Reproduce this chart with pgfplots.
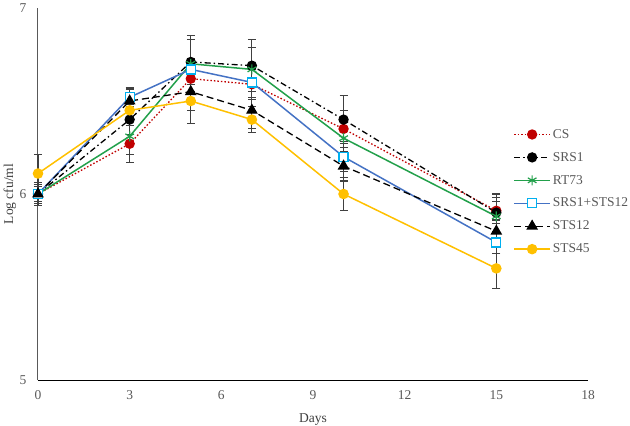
\documentclass[border=0pt]{standalone}
\usepackage{pgfplots}
\pgfplotsset{compat=1.18}
\usepackage{fontspec}
\setmainfont{Liberation Serif}
\definecolor{csred}{HTML}{C00000}
\definecolor{rtgreen}{HTML}{22A04B}
\definecolor{sblue}{HTML}{4472C4}
\definecolor{scyan}{HTML}{00B0F0}
\definecolor{syellow}{HTML}{FFC000}
\definecolor{tickgray}{HTML}{595959}
\definecolor{errgray}{HTML}{404040}
\begin{document}
\begin{tikzpicture}
\path[use as bounding box] (-38pt,-46pt) rectangle (592pt,380pt);
\begin{axis}[
  scale only axis,
  width=550pt, height=372pt,
  xmin=0, xmax=18, ymin=5, ymax=7,
  xtick={0,3,...,18}, ytick={5,6,7},
  axis x line*=bottom, axis y line*=left,
  x axis line style={black, line width=1pt},
  y axis line style={tickgray, line width=1pt},
  major tick length=0pt,
  /pgf/number format/assume math mode=true,
  font=\fontsize{13.5}{16}\selectfont,
  ticklabel style={font=\fontsize{13.5}{16}\selectfont, text=tickgray},
  yticklabel style={xshift=-8pt},
  xticklabel style={yshift=-7pt},
  xlabel={Days}, ylabel={Log cfu/ml},
  xlabel style={at={(axis description cs:0.5,0)}, anchor=center, yshift=-40pt, text=tickgray!70!black},
  ylabel style={at={(axis description cs:-0.051,0.5)}, anchor=center, text=tickgray!70!black},
  clip=false,
  error bars/y dir=both, error bars/y explicit,
  error bars/error bar style={solid, errgray, line width=1.1pt},
  error bars/error mark options={solid, rotate=90, mark size=4pt, errgray, line width=1.1pt},
  legend cell align=left,
  legend style={draw=none, fill=none, at={(axis description cs:0.864,0.68)}, anchor=north west,
    font=\fontsize{13.5}{16}\selectfont, text=tickgray, row sep=8.5pt, inner sep=0pt},
  legend image code/.code={\draw[mark repeat=2,mark phase=2] plot coordinates {(0pt,0pt) (18pt,0pt) (36pt,0pt)};},
]
\addplot[csred, line width=1.3pt, dash pattern=on 1.5pt off 2pt, mark=*, mark size=4.5pt, mark options={solid, fill=csred, draw=csred}]
  coordinates {(0,6.0) +- (0,0.05) (3,6.27) +- (0,0.10) (5,6.62) +- (0,0.08) (7,6.59) +- (0,0.08) (10,6.35) +- (0,0.10) (15,5.91) +- (0,0.07)};
\addlegendentry{CS}
\addplot[black, line width=1.3pt, dash pattern=on 6pt off 3pt on 1.5pt off 3pt, mark=*, mark size=4.5pt, mark options={solid, fill=black}]
  coordinates {(0,6.0) +- (0,0.06) (3,6.40) +- (0,0.08) (5,6.71) +- (0,0.12) (7,6.69) +- (0,0.14) (10,6.40) +- (0,0.13) (15,5.90) +- (0,0.10)};
\addlegendentry{SRS1}
\addplot[rtgreen, line width=1.5pt, mark=asterisk, mark size=5pt, mark options={solid, line width=1.2pt}]
  coordinates {(0,6.0) +- (0,0.04) (3,6.31) +- (0,0.10) (5,6.70) +- (0,0.15) (7,6.67) +- (0,0.12) (10,6.30) +- (0,0.10) (15,5.88) +- (0,0.08)};
\addlegendentry{RT73}
\addplot[sblue, line width=1.5pt, mark=square*, mark size=4.5pt, mark options={solid, fill=white, draw=scyan, line width=1.3pt}]
  coordinates {(0,6.0) +- (0,0.05) (3,6.52) +- (0,0.05) (5,6.67) +- (0,0.06) (7,6.60) +- (0,0.08) (10,6.20) +- (0,0.08) (15,5.74) +- (0,0.06)};
\addlegendentry{SRS1+STS12}
\addplot[black, line width=1.3pt, dash pattern=on 7pt off 4pt, mark=triangle*, mark size=5.5pt, mark options={solid, fill=black}]
  coordinates {(0,6.0) +- (0,0.04) (3,6.50) +- (0,0.06) (5,6.55) +- (0,0.10) (7,6.45) +- (0,0.10) (10,6.15) +- (0,0.08) (15,5.80) +- (0,0.06)};
\addlegendentry{STS12}
\addplot[syellow, line width=1.5pt, mark=*, mark size=4.5pt, mark options={solid, fill=syellow, draw=syellow}]
  coordinates {(0,6.11) +- (0,0.10) (3,6.45) +- (0,0.06) (5,6.50) +- (0,0.12) (7,6.40) +- (0,0.07) (10,6.00) +- (0,0.09) (15,5.60) +- (0,0.11)};
\addlegendentry{STS45}
\end{axis}
\end{tikzpicture}
\end{document}
